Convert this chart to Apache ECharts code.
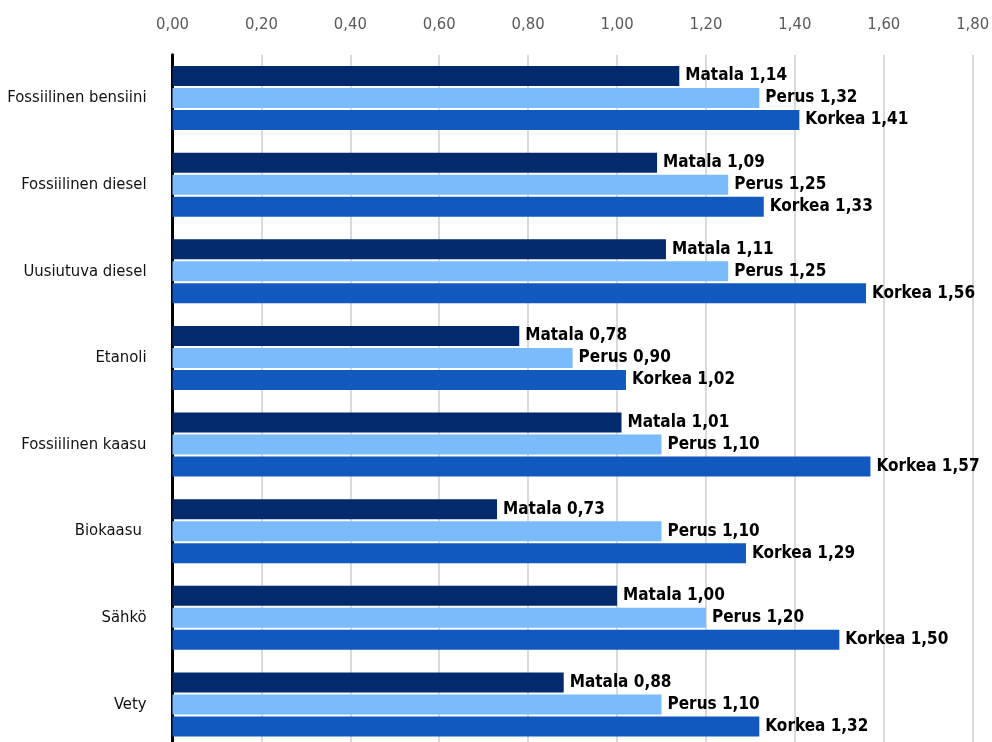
<!DOCTYPE html>
<html>
<head>
<meta charset="utf-8">
<script src="https://cdn.jsdelivr.net/npm/echarts@6/dist/echarts.min.js"></script>
<style>
  html, body { margin: 0; padding: 0; background: #ffffff; }
  #chart { width: 992px; height: 742px; }
</style>
</head>
<body>
<div id="chart"></div>
<script>
// Polttoaineiden hinta-arviot skenaarioittain
const categories = [
  'Fossiilinen bensiini',
  'Fossiilinen diesel',
  'Uusiutuva diesel',
  'Etanoli',
  'Fossiilinen kaasu',
  'Biokaasu ',
  'Sähkö',
  'Vety'
];
const matala = [1.14, 1.09, 1.11, 0.78, 1.01, 0.73, 1.00, 0.88];
const perus  = [1.32, 1.25, 1.25, 0.90, 1.10, 1.10, 1.20, 1.10];
const korkea = [1.41, 1.33, 1.56, 1.02, 1.57, 1.29, 1.50, 1.32];
const seriesNames = ['Matala', 'Perus', 'Korkea'];
const seriesColors = ['#032a6c', '#79bbfb', '#1259bf'];

const FONT = '"DejaVu Sans Condensed", "Liberation Sans Narrow", sans-serif';
const fmt = v => v.toFixed(2).replace('.', ',');

const chart = echarts.init(document.getElementById('chart'), null, { renderer: 'canvas' });

function barSeries(name, data, color) {
  return {
    name: name,
    type: 'bar',
    data: data,
    barWidth: 20,
    barGap: '10%',
    itemStyle: { color: color },
    label: {
      show: true,
      position: 'right',
      distance: 6,
      color: '#000000',
      fontFamily: FONT,
      fontWeight: 'bold',
      fontSize: 17,
      formatter: p => p.seriesName + ' ' + fmt(p.value)
    }
  };
}

chart.setOption({
  animation: false,
  backgroundColor: '#ffffff',
  grid: {
    left: 172.5, right: 19.3, top: 54.7, height: 693,
    containLabel: false,
    outerBoundsMode: 'none'
  },
  xAxis: {
    type: 'value',
    position: 'top',
    min: 0,
    max: 1.8,
    interval: 0.2,
    axisLine: { show: false },
    axisTick: { show: false },
    axisLabel: {
      color: '#595959',
      fontFamily: FONT,
      fontSize: 16.5,
      margin: 21,
      formatter: v => fmt(v)
    },
    splitLine: { show: true, lineStyle: { color: '#dadada', width: 2 } }
  },
  yAxis: {
    type: 'category',
    inverse: true,
    data: categories,
    axisLine: { show: true, lineStyle: { color: '#000000', width: 3 } },
    axisTick: { show: false },
    axisLabel: {
      color: '#111111',
      fontFamily: FONT,
      fontSize: 16.5,
      margin: 26
    }
  },
  series: [
    barSeries(seriesNames[0], matala, seriesColors[0]),
    barSeries(seriesNames[1], perus, seriesColors[1]),
    barSeries(seriesNames[2], korkea, seriesColors[2])
  ]
});
</script>
</body>
</html>
